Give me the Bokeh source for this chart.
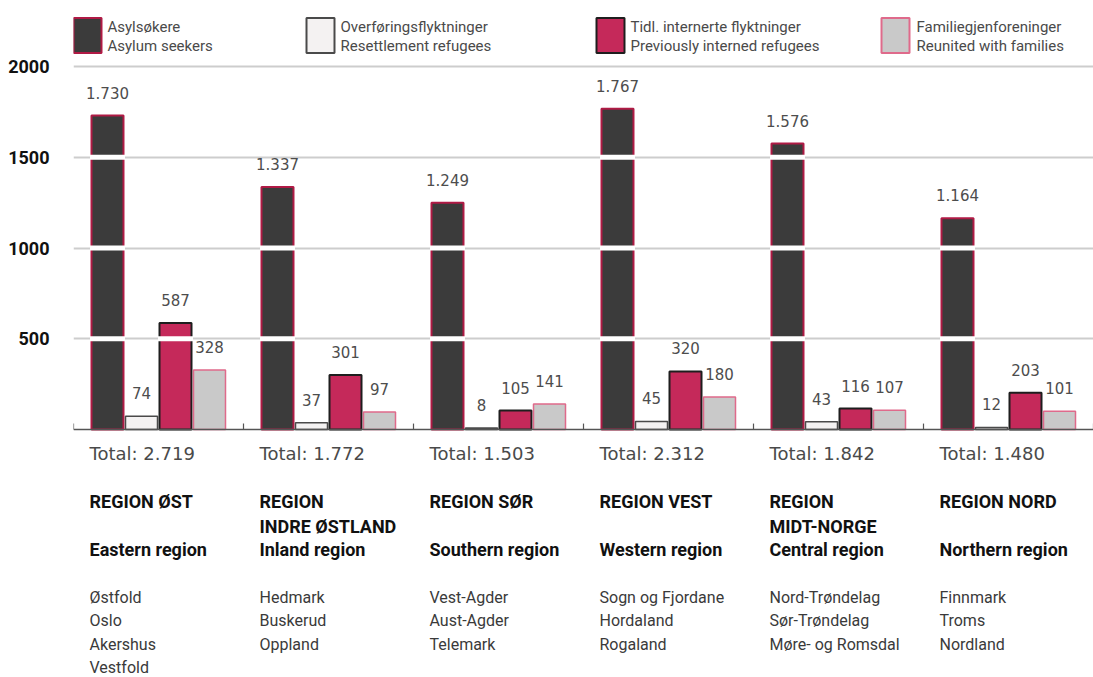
from bokeh.plotting import figure
from bokeh.models import Range1d, FixedTicker
from bokeh.core.properties import value
from bokeh.embed import file_html
from bokeh.resources import INLINE

# ---------------- data ----------------
region_titles = [["REGION ØST"], ["REGION", "INDRE ØSTLAND"], ["REGION SØR"],
                 ["REGION VEST"], ["REGION", "MIDT-NORGE"], ["REGION NORD"]]
region_en = ["Eastern region", "Inland region", "Southern region",
             "Western region", "Central region", "Northern region"]
counties = [["Østfold", "Oslo", "Akershus", "Vestfold"],
            ["Hedmark", "Buskerud", "Oppland"],
            ["Vest-Agder", "Aust-Agder", "Telemark"],
            ["Sogn og Fjordane", "Hordaland", "Rogaland"],
            ["Nord-Trøndelag", "Sør-Trøndelag", "Møre- og Romsdal"],
            ["Finnmark", "Troms", "Nordland"]]
asylum_seekers = [1730, 1337, 1249, 1767, 1576, 1164]
resettlement = [74, 37, 8, 45, 43, 12]
interned = [587, 301, 105, 320, 116, 203]
reunited = [328, 97, 141, 180, 107, 101]
series_no = ["Asylsøkere", "Overføringsflyktninger",
             "Tidl. internerte flyktninger", "Familiegjenforeninger"]
series_en = ["Asylum seekers", "Resettlement refugees",
             "Previously interned refugees", "Reunited with families"]
y_ticks = [500, 1000, 1500, 2000]

series = [asylum_seekers, resettlement, interned, reunited]
totals = [sum(s[i] for s in series) for i in range(len(region_en))]

def fmt(v):
    return f"{v:,}".replace(",", ".")

# ---------------- layout / style ----------------
W, H = 1093, 677
LEFT = 73
NG = len(region_en)
GROUP_PX = (W - LEFT) / NG
Y0, Y1 = -1366, 2364
U = (Y1 - Y0) / H            # data units per pixel


def ypx(py):
    return Y1 - py * U


def xpx(px):
    return (px - LEFT) / GROUP_PX


fills = ["#3b3b3b", "#f4f2f2", "#c5295a", "#c9c9c9"]
outlines = ["#b01a45", "#4a4a4a", "#1e1e1e", "#df6a8b"]
owidth = [2, 1.5, 2, 1.5]
BAR_W = 32 / GROUP_PX

p = figure(width=W, height=H, x_range=Range1d(0, NG), y_range=Range1d(Y0, Y1),
           output_backend="svg", toolbar_location=None, x_axis_location=None,
           min_border_left=LEFT, min_border_right=0, min_border_top=0,
           min_border_bottom=0)
p.outline_line_color = None
p.background_fill_color = "white"
p.border_fill_color = "white"
p.xgrid.visible = False
p.yaxis.ticker = FixedTicker(ticks=y_ticks)
p.ygrid.ticker = FixedTicker(ticks=y_ticks)
p.ygrid.grid_line_color = "#cdcdcd"
p.ygrid.grid_line_width = 2
p.yaxis.axis_line_color = None
p.yaxis.major_tick_line_color = None
p.yaxis.minor_tick_line_color = None
p.yaxis.major_label_standoff = 18
p.yaxis.major_label_text_font = "Roboto"
p.yaxis.major_label_text_font_style = "bold"
p.yaxis.major_label_text_font_size = "18px"
p.yaxis.major_label_text_color = "#111111"

# bars
for j, vals in enumerate(series):
    xs = [i + 0.2 + 0.2 * j for i in range(NG)]
    p.vbar(x=xs, top=vals, bottom=0, width=BAR_W, fill_color=fills[j],
           line_color=outlines[j], line_width=owidth[j])

# white gaps where gridlines cross bars
gx, gy = [], []
for j, vals in enumerate(series):
    for i, v in enumerate(vals):
        for g in y_ticks:
            if v > g:
                gx.append(i + 0.2 + 0.2 * j)
                gy.append(g)
p.rect(x=gx, y=gy, width=BAR_W + 3 / GROUP_PX, height=5, height_units="screen",
       fill_color="white", line_color=None)

# baseline and ticks
p.segment(x0=[0], y0=[0], x1=[NG], y1=[0], line_color="#555555", line_width=1.5)
p.segment(x0=list(range(NG + 1)), y0=[0] * (NG + 1), x1=list(range(NG + 1)),
          y1=[6 * U] * (NG + 1), line_color="#555555", line_width=1.2)

# value labels
lx, ly, lt = [], [], []
for j, vals in enumerate(series):
    for i, v in enumerate(vals):
        lx.append(i + 0.2 + 0.2 * j)
        ly.append(v + 23 * U)
        lt.append(fmt(v))
p.text(x=lx, y=ly, text=lt, text_align="center", text_baseline="middle",
       text_font=value("DejaVu Sans"), text_font_size="15px", text_color="#4d4d4d")

# texts under groups
TX = xpx(LEFT + 16)
p.text(x=[i + TX for i in range(NG)], y=[ypx(453)] * NG,
       text=["Total: " + fmt(t) for t in totals], text_align="left",
       text_baseline="middle", text_font=value("DejaVu Sans"),
       text_font_size="18px", text_color="#4a4a4a")

rx, ry, rt = [], [], []
for i, lines_ in enumerate(region_titles):
    for k, s in enumerate(lines_):
        rx.append(i + TX)
        ry.append(ypx(501 + 25 * k))
        rt.append(s)
p.text(x=rx, y=ry, text=rt, text_align="left", text_baseline="middle",
       text_font=value("Roboto"), text_font_style="bold",
       text_font_size="18px", text_color="#111111")

p.text(x=[i + TX for i in range(NG)], y=[ypx(549)] * NG, text=region_en,
       text_align="left", text_baseline="middle",
       text_font=value("Roboto"), text_font_style="bold",
       text_font_size="18px", text_color="#111111")

cx, cy, ct = [], [], []
for i, cl in enumerate(counties):
    for k, s in enumerate(cl):
        cx.append(i + TX)
        cy.append(ypx(597 + 23.4 * k))
        ct.append(s)
p.text(x=cx, y=cy, text=ct, text_align="left", text_baseline="middle",
       text_font=value("Roboto"), text_font_size="16px",
       text_color="#3a3a3a")

# legend
sw_px = [87, 320, 610, 895]
tx_px = [107, 340, 630, 916]
p.rect(x=[xpx(v) for v in sw_px], y=[ypx(35)] * 4, width=28, height=35,
       width_units="screen", height_units="screen", fill_color=fills,
       line_color=outlines, line_width=2)
p.text(x=[xpx(v) for v in tx_px], y=[ypx(26)] * 4, text=series_no,
       text_align="left", text_baseline="middle", text_font=value("Roboto"),
       text_font_size="15px", text_color="#4a4a4a")
p.text(x=[xpx(v) for v in tx_px], y=[ypx(45)] * 4, text=series_en,
       text_align="left", text_baseline="middle", text_font=value("Roboto"),
       text_font_size="15px", text_color="#4a4a4a")

open("out.html", "w").write(file_html(p, INLINE))
